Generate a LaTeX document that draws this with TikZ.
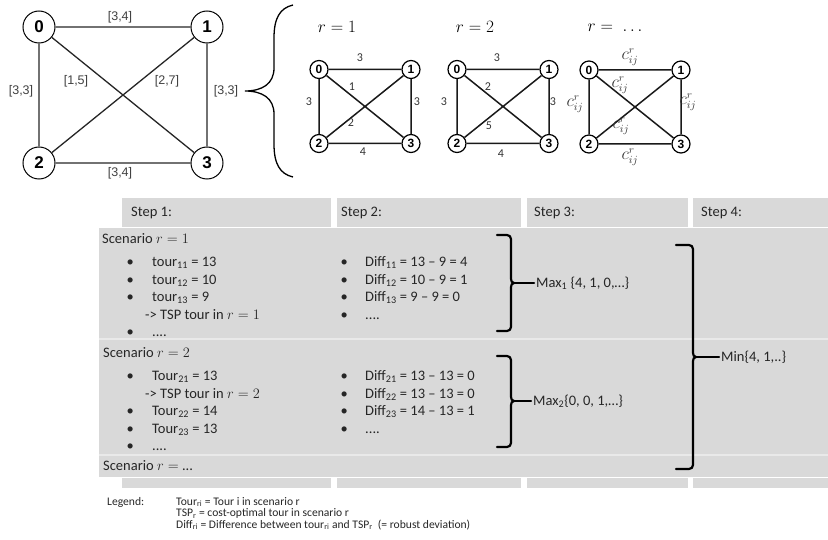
\documentclass[tikz,border=0pt]{standalone}
\usepackage{fontspec}
\setmainfont{Carlito}
\newfontfamily\arialfont{Liberation Sans}
\usetikzlibrary{positioning,calc}
\definecolor{cellgray}{HTML}{D9D9D9}
\definecolor{sepgray}{HTML}{E9E9E9}
\tikzset{
  bignode/.style={circle,draw,line width=1pt,minimum size=32pt,inner sep=0pt,font=\arialfont\bfseries\fontsize{17}{17}\selectfont},
  smallnode/.style={circle,draw,line width=1.2pt,minimum size=18pt,inner sep=0pt,font=\arialfont\bfseries\fontsize{12}{12}\selectfont},
  bigedge/.style={line width=1.3pt,draw=black!85},
  smalledge/.style={line width=1.5pt,draw=black!90},
  weight/.style={font=\arialfont\fontsize{12.5}{13}\selectfont,text=black!75,inner sep=1pt},
  cost/.style={font=\fontsize{12}{13}\selectfont,text=black!80,inner sep=1pt},
  costr/.style={font=\fontsize{16}{16}\selectfont,text=black!80,inner sep=0pt},
  scen/.style={font=\fontsize{16}{16}\selectfont,inner sep=1pt},
  celltext/.style={anchor=base west,inner sep=0pt,font=\fontsize{14.5}{17.6}\selectfont,text=black!85},
  legendtext/.style={anchor=base west,inner sep=0pt,font=\fontsize{11.6}{11}\selectfont,text=black!85},
  bracket/.style={line width=2.2pt,line cap=round},
}
\begin{document}
\begin{tikzpicture}[x=1pt,y=-1pt]
  \useasboundingbox (0,0) rectangle (828,540);
  % uncertain graph
  \node [bignode] (n0) at (39,27) {0};
  \node [bignode] (n1) at (207,27) {1};
  \node [bignode] (n2) at (39,163) {2};
  \node [bignode] (n3) at (207,163) {3};
  \draw [bigedge] (n0) -- (n1) (n0) -- (n2) (n1) -- (n3) (n2) -- (n3) (n0) -- (n3) (n1) -- (n2);
  \node [weight] (w01) at (120,17) {[3,4]};
  \node [weight] (w02) at (21,91) {[3,3]};
  \node [weight] (w03) at (76,81) {[1,5]};
  \node [weight] (w12) at (167,81) {[2,7]};
  \node [weight] (w13) at (226,91) {[3,3]};
  \node [weight] (w23) at (120,173) {[3,4]};
  % brace
  \coordinate (brtop) at (293,5);
  \coordinate (brtip) at (245,91);
  \coordinate (brbot) at (293,177);
  \draw [line width=1.3pt] (brtop) .. controls (280,8) and (274,18) .. (274,38) -- (274,68) .. controls (274,84) and (262,91) .. (brtip) .. controls (262,91) and (274,98) .. (274,114) -- (274,144) .. controls (274,164) and (280,174) .. (brbot);
  % scenario graphs
  \foreach \g/\x/\y in {a/319/69.5,b/457/69.5,c/589/70} {
    \node [smallnode] (\g0) at (\x,\y) {0};
    \node [smallnode] (\g1) at (\x+92,\y) {1};
    \node [smallnode] (\g2) at (\x,\y+74) {2};
    \node [smallnode] (\g3) at (\x+92,\y+74) {3};
    \draw [smalledge] (\g0) -- (\g1) (\g0) -- (\g2) (\g1) -- (\g3) (\g2) -- (\g3) (\g0) -- (\g3) (\g1) -- (\g2);
  }
  \node [scen] (ra) at (337,27) {$r = 1$};
  \node [scen] (rb) at (475,27) {$r = 2$};
  \node [scen] (rc) at (615,28) {$r = \;\ldots$};
  \node [cost] (a01w) at (360,58) {3};
  \node [cost] (a02w) at (309,102) {3};
  \node [cost] (a13w) at (417,102) {3};
  \node [cost] (a23w) at (363,152) {4};
  \node [cost] (a03w) at (352,87) {1};
  \node [cost] (a12w) at (351,123) {2};
  \node [cost] (b01w) at (497,58) {3};
  \node [cost] (b02w) at (444,102) {3};
  \node [cost] (b13w) at (553,102) {3};
  \node [cost] (b23w) at (501,154) {4};
  \node [cost] (b03w) at (488,87) {2};
  \node [cost] (b12w) at (489,126) {5};
  \node [costr] (c01w) at (630,57) {$c^r_{ij}$};
  \node [costr] (c02w) at (575,104) {$c^r_{ij}$};
  \node [costr] (c13w) at (688,102) {$c^r_{ij}$};
  \node [costr] (c23w) at (630,157) {$c^r_{ij}$};
  \node [costr] (c03w) at (620,85) {$c^r_{ij}$};
  \node [costr] (c12w) at (621,126) {$c^r_{ij}$};
  % table
  \fill [cellgray] (122,198) rectangle (331,488);
  \fill [cellgray] (337,198) rectangle (521,488);
  \fill [cellgray] (527,198) rectangle (688,488);
  \fill [cellgray] (693,198) rectangle (829,488);
  \filldraw [fill=cellgray,draw=white,line width=1pt] (98,228) rectangle (830,477.5);
  \draw [sepgray,line width=2pt] (98.5,339) -- (829,339) (98.5,455) -- (829,455);
  \node [celltext] (step1) at (131,216.5) {Step 1:};
  \node [celltext] (step2) at (341,216.5) {Step 2:};
  \node [celltext] (step3) at (534,216.5) {Step 3:};
  \node [celltext] (step4) at (701,216.5) {Step 4:};
  \node [celltext] (sc1) at (102,243.5) {Scenario $r = 1$};
  \node [celltext] (sc2) at (103,357.5) {Scenario $r = 2$};
  \node [celltext] (sc3) at (103,470.5) {Scenario $r = $ ...};
  \node [celltext] (tours1) at (126.5,266.5) {\begin{tabular}[t]{@{}p{25.5pt}@{}l@{}}
    \textbullet & tour\textsubscript{11} = 13\\
    \textbullet & tour\textsubscript{12} = 10\\
    \textbullet & tour\textsubscript{13} = 9\\
    & \hspace*{-7pt}-> TSP tour in $r = 1$\\
    \textbullet & ....
  \end{tabular}};
  \node [celltext] (diffs1) at (340.5,266.5) {\begin{tabular}[t]{@{}p{24.5pt}@{}l@{}}
    \textbullet & Diff\textsubscript{11} = 13 – 9 = 4\\
    \textbullet & Diff\textsubscript{12} = 10 – 9 = 1\\
    \textbullet & Diff\textsubscript{13} = 9 – 9 = 0\\
    \textbullet & ....
  \end{tabular}};
  \node [celltext] (tours2) at (126.5,380.5) {\begin{tabular}[t]{@{}p{25.5pt}@{}l@{}}
    \textbullet & Tour\textsubscript{21} = 13\\
    & \hspace*{-7pt}-> TSP tour in $r = 2$\\
    \textbullet & Tour\textsubscript{22} = 14\\
    \textbullet & Tour\textsubscript{23} = 13\\
    \textbullet & ....
  \end{tabular}};
  \node [celltext] (diffs2) at (340.5,380.5) {\begin{tabular}[t]{@{}p{24.5pt}@{}l@{}}
    \textbullet & Diff\textsubscript{21} = 13 – 13 = 0\\
    \textbullet & Diff\textsubscript{22} = 13 – 13 = 0\\
    \textbullet & Diff\textsubscript{23} = 14 – 13 = 1\\
    \textbullet & ....
  \end{tabular}};
  \node [celltext,inner xsep=2pt] (max1) at (534,287.5) {Max\textsubscript{1} \{4, 1, 0,…\}};
  \node [celltext,inner xsep=2pt] (max2) at (531,405) {Max\textsubscript{2}\{0, 0, 1,…\}};
  \node [celltext,inner xsep=2pt] (minall) at (719,361) {Min\{4, 1,..\}};
  % brackets
  \coordinate (b1tip) at (514,283);
  \coordinate (b2tip) at (514,401);
  \coordinate (b3tip) at (696,357);
  \draw [bracket] (497,235) -- (507,235) to [out=0,in=90] (511,239) -- (511,279) to [out=-90,in=180] (b1tip) to [out=180,in=90] (511,287) -- (511,327) to [out=-90,in=0] (507,331) -- (497,331);
  \draw [bracket] (497,356) -- (507,356) to [out=0,in=90] (511,360) -- (511,397) to [out=-90,in=180] (b2tip) to [out=180,in=90] (511,405) -- (511,443) to [out=-90,in=0] (507,447) -- (497,447);
  \draw [bracket] (676,245) -- (689,245) to [out=0,in=90] (693,249) -- (693,353) to [out=-90,in=180] (b3tip) to [out=180,in=90] (693,361) -- (693,465) to [out=-90,in=0] (689,469) -- (676,469);
  \draw [bracket] (b1tip) -- (max1.west |- b1tip);
  \draw [bracket] (b2tip) -- (max2.west |- b2tip);
  \draw [bracket] (b3tip) -- (minall.west |- b3tip);
  % legend
  \node [legendtext] (legend) at (107,505) {Legend:};
  \node [legendtext] (legendlines) at (176,505) {\begin{tabular}[t]{@{}l@{}}
    Tour\textsubscript{ri} = Tour i in scenario r\\
    TSP\textsubscript{r} = cost-optimal tour in scenario r\\
    Diff\textsubscript{ri} = Difference between tour\textsubscript{ri} and TSP\textsubscript{r}~ (= robust deviation)
  \end{tabular}};
\end{tikzpicture}
\end{document}
